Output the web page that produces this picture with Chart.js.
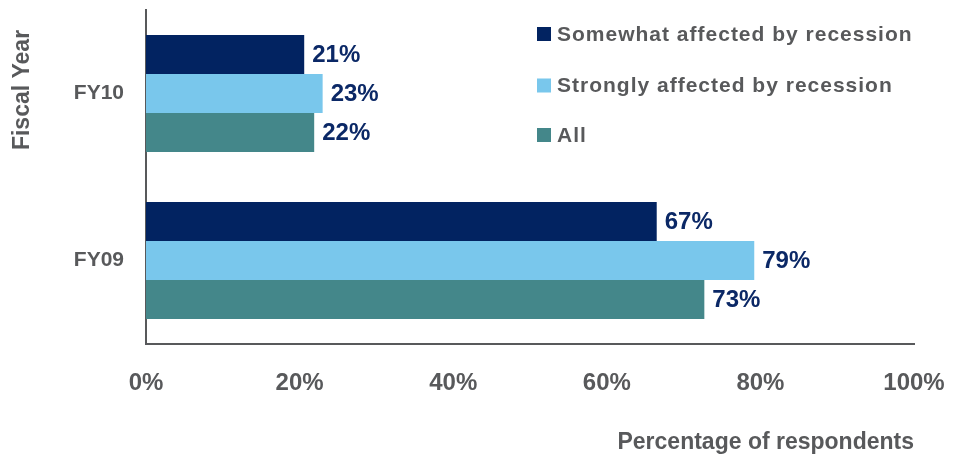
<!DOCTYPE html>
<html>
<head>
<meta charset="utf-8">
<script src="https://cdn.jsdelivr.net/npm/chart.js@4.4.1/dist/chart.umd.min.js"></script>
<style>
html,body{margin:0;padding:0;background:#fff;}
#wrap{width:955px;height:456px;}
</style>
</head>
<body>
<div id="wrap"><canvas id="c" width="955" height="456"></canvas></div>
<script>
const categories = ["FY10", "FY09"];
const seriesNames = ["Somewhat affected by recession", "Strongly affected by recession", "All"];
const somewhatValues = [20.6, 66.5];
const stronglyValues = [23.0, 79.2];
const allValues = [21.9, 72.7];
const somewhatLabels = ["21%", "67%"];
const stronglyLabels = ["23%", "79%"];
const allLabels = ["22%", "73%"];
const xTickValues = [0, 20, 40, 60, 80, 100];
const xTitle = "Percentage of respondents";
const yTitle = "Fiscal Year";

const FONT = "'Liberation Sans', Arial, sans-serif";
const GRAY = "#58595b";
const colors = ["#022361", "#79c7ec", "#44878a"];

const labelSets = [somewhatLabels, stronglyLabels, allLabels];

const valueLabelPlugin = {
  id: 'valueLabels',
  afterDatasetsDraw(chart) {
    const ctx = chart.ctx;
    ctx.save();
    ctx.font = "bold 24px " + FONT;
    ctx.fillStyle = "#0b2866";
    ctx.textAlign = "left";
    ctx.textBaseline = "middle";
    chart.data.datasets.forEach((ds, i) => {
      const meta = chart.getDatasetMeta(i);
      meta.data.forEach((el, j) => {
        ctx.fillText(labelSets[i][j], el.x + 8, el.y + 1);
      });
    });
    ctx.restore();
  }
};

const legendPlugin = {
  id: 'customLegend',
  afterDraw(chart) {
    const ctx = chart.ctx;
    ctx.save();
    ctx.font = "bold 21px " + FONT;
    if ('letterSpacing' in ctx) ctx.letterSpacing = "1px";
    ctx.textAlign = "left";
    ctx.textBaseline = "middle";
    const rows = [34, 85.5, 135];
    chart.data.datasets.forEach((ds, i) => {
      ctx.fillStyle = ds.backgroundColor;
      ctx.fillRect(537, rows[i] - 7, 14, 14);
      ctx.fillStyle = GRAY;
      ctx.fillText(ds.label, 557, rows[i] + 1);
    });
    ctx.restore();
  }
};

const yTitlePlugin = {
  id: 'yTitle',
  afterDraw(chart) {
    const ctx = chart.ctx;
    ctx.save();
    ctx.translate(23, 90);
    ctx.rotate(-Math.PI / 2);
    ctx.font = "bold 23px " + FONT;
    ctx.fillStyle = GRAY;
    ctx.textAlign = "center";
    ctx.textBaseline = "middle";
    ctx.fillText(yTitle, 0, 0);
    ctx.restore();
  }
};

new Chart(document.getElementById('c'), {
  type: 'bar',
  data: {
    labels: categories,
    datasets: [
      { label: seriesNames[0], data: somewhatValues, backgroundColor: colors[0] },
      { label: seriesNames[1], data: stronglyValues, backgroundColor: colors[1] },
      { label: seriesNames[2], data: allValues, backgroundColor: colors[2] }
    ]
  },
  options: {
    indexAxis: 'y',
    responsive: false,
    animation: false,
    devicePixelRatio: 1,
    layout: { padding: { left: 0, right: 41, top: 10, bottom: 0 } },
    datasets: { bar: { categoryPercentage: 0.7, barPercentage: 1.0, borderWidth: 0 } },
    plugins: {
      legend: { display: false },
      tooltip: { enabled: false }
    },
    scales: {
      x: {
        min: 0, max: 100,
        afterBuildTicks(scale) { scale.ticks = xTickValues.map(v => ({ value: v })); },
        afterFit(scale) {
          scale.height = 112;
          scale.paddingLeft = 0; scale.paddingRight = 0;
          scale.paddingTop = 0; scale.paddingBottom = 0;
        },
        grid: { display: false, drawTicks: false },
        border: { display: true, color: GRAY, width: 2 },
        ticks: {
          padding: 25,
          color: GRAY,
          font: { family: FONT, size: 24, weight: 'bold' },
          maxRotation: 0,
          callback: v => v + '%'
        },
        title: {
          display: true,
          text: xTitle,
          align: 'end',
          color: GRAY,
          font: { family: FONT, size: 23, weight: 'bold' },
          padding: { top: 22, bottom: 0 }
        }
      },
      y: {
        afterFit(scale) {
          scale.width = 146;
          scale.paddingLeft = 0; scale.paddingRight = 0;
          scale.paddingTop = 0; scale.paddingBottom = 0;
        },
        grid: { display: false, drawTicks: false },
        border: { display: true, color: GRAY, width: 2 },
        ticks: {
          padding: 22,
          color: GRAY,
          font: { family: FONT, size: 21, weight: 'bold' }
        }
      }
    }
  },
  plugins: [valueLabelPlugin, legendPlugin, yTitlePlugin]
});
</script>
</body>
</html>
